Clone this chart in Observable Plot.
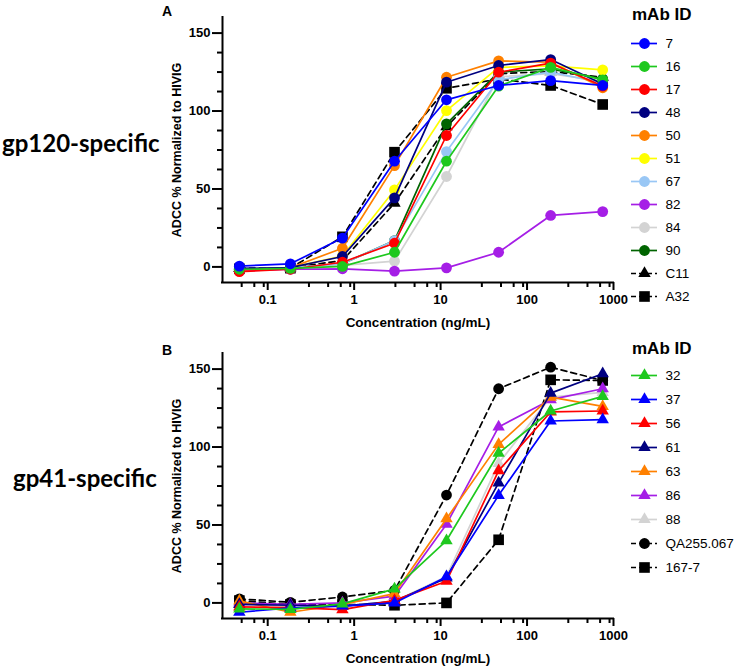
<!DOCTYPE html>
<html><head><meta charset="utf-8">
<script src="https://cdn.jsdelivr.net/npm/d3@7"></script>
<script src="https://cdn.jsdelivr.net/npm/@observablehq/plot@0.6"></script>
<style>
body{margin:0;background:#fff;}
#fig{position:relative;width:736px;height:669px;overflow:hidden;font-family:"Liberation Sans",Arial,sans-serif;color:#000;}
.side{font-family:Lato,sans-serif;font-weight:700;font-size:24px;white-space:nowrap;line-height:1;}
.letter{font-weight:bold;font-size:14px;line-height:1;}
.ltitle{font-weight:bold;font-size:17px;line-height:1;white-space:nowrap;}
</style></head><body><div id="fig"></div>
<script>
// ---- data ----
const conc = [0.047, 0.183, 0.732, 2.93, 11.7, 46.9, 187.5, 750];
const xTicks = [0.1, 1, 10, 100, 1000];
const xMinor = [0.05,0.07,0.09,0.3,0.5,0.7,0.9,3,5,7,9,30,50,70,90,300,500,700,900];
const yTicks = [0, 50, 100, 150];
const yMinor = [12.5, 25, 37.5, 62.5, 75, 87.5, 112.5, 125, 137.5];

const gp120Ids = ["7","16","17","48","50","51","67","82","84","90","C11","A32"];
const gp120Values = [
  [0.5, 2, 18.5, 67.8, 107.2, 116.4, 119.5, 116.4],
  [-1.5, -1, 0.3, 9.4, 67.8, 116, 128, 120],
  [-3, -1.5, 3, 15.2, 84.3, 124.9, 130.7, 116],
  [-1, -0.5, 6.7, 44.3, 118.5, 129.2, 133, 117.4],
  [-2, -0.5, 12, 65, 121.7, 132.2, 131.3, 114.9],
  [-1.5, -0.5, 7, 49.4, 100.3, 128, 129, 126.4],
  [-1.5, -0.5, 2, 16.9, 74, 120, 125, 118],
  [-2.5, -1.5, -1.2, -2.7, -0.6, 9.4, 33, 35.5],
  [-1.5, -1, 1, 3.7, 58, 122, 124, 119],
  [-1.5, -0.5, 2, 16.9, 91.8, 125, 127, 120.6],
  [-1, -0.5, 4.1, 40.9, 90, 124, 125.3, 121.7],
  [-1.2, -0.8, 19.3, 73.6, 114.6, 120.6, 116.4, 104.2]
];
const gp120Colors = ["#0000ff","#1ec81e","#ff0000","#000080","#ff8000","#ffff00","#99c7f5","#a51ee6","#d3d3d3","#006400","#000000","#000000"];
const gp120Symbols = ["circle","circle","circle","circle","circle","circle","circle","circle","circle","circle","triangle","square"];
const gp120Dashed = [false,false,false,false,false,false,false,false,false,false,true,true];

const gp41Ids = ["32","37","56","61","63","86","88","QA255.067","167-7"];
const gp41Values = [
  [-3.8, -4.2, -0.6, 9, 40, 96, 123.1, 132.5],
  [-6, -3.2, -2, 0, 16.8, 69, 116.7, 117.6],
  [-2.5, -3, -4.3, 1.6, 13.9, 84.8, 122.5, 123.1],
  [-1, -1.5, -2, 1, 16, 77, 134.6, 147],
  [1.3, -6, -1, 6, 54, 101.7, 132, 126.1],
  [0, -1, 0, 4.3, 50.5, 112.9, 130.4, 137.4],
  [-1, -2, -2, 1, 17, 89.5, 132, 135],
  [2.6, 0.4, 3.8, 8, 69.2, 137.4, 151.2, 142.7],
  [1.5, -1, -1, -1.5, 0, 40.5, 143.1, 142.7]
];
const gp41Colors = ["#1ec81e","#0000ff","#ff0000","#000080","#ff8000","#a51ee6","#d3d3d3","#000000","#000000"];
const gp41Symbols = ["triangle","triangle","triangle","triangle","triangle","triangle","triangle","circle","square"];
const gp41Dashed = [false,false,false,false,false,false,false,true,true];

const fig = document.getElementById("fig");

function place(el, left, top) {
  el.style.position = "absolute";
  el.style.left = left + "px";
  el.style.top = top + "px";
  fig.appendChild(el);
}
function label(text, cls, left, top) {
  const d = document.createElement("div");
  d.className = cls; d.textContent = text;
  place(d, left, top);
}
function symR(s) { return s === "circle" ? 5.4 : s === "square" ? 6 : 4.6; }

function panel(ids, values, colors, symbols, dashed) {
  const rows = [];
  ids.forEach((id, i) => values[i].forEach((v, j) => rows.push({i, id, conc: conc[j], v})));
  const marks = [
    Plot.axisY({ticks: yMinor, tickSize: 5, strokeWidth: 2, tickFormat: () => "", label: null}),
    Plot.axisY({ticks: yTicks, tickSize: 10, tickPadding: 2, strokeWidth: 2, tickFormat: d => String(d), label: null, fontSize: 13, fontWeight: "bold"}),
    Plot.axisX({ticks: xMinor, tickSize: 5, strokeWidth: 2, tickFormat: () => "", label: null}),
    Plot.axisX({ticks: xTicks, tickSize: 8, tickPadding: 4, strokeWidth: 2, tickFormat: d => String(d), label: null, fontSize: 13, fontWeight: "bold"}),
    Plot.ruleX([0.03], {strokeWidth: 2, strokeLinecap: "square"}),
    Plot.ruleY([-10], {strokeWidth: 2, strokeLinecap: "square"}),
    Plot.text(["ADCC % Normalized to HIVIG"], {text: d => d, frameAnchor: "left", rotate: -90, dx: -46, textAnchor: "middle", lineAnchor: "middle", fontSize: 12.5, fontWeight: "bold"}),
    Plot.text(["Concentration (ng/mL)"], {text: d => d, frameAnchor: "bottom", dy: 40, textAnchor: "middle", lineAnchor: "middle", fontSize: 13.5, fontWeight: "bold"})
  ];
  for (let i = ids.length - 1; i >= 0; i--) {
    const data = rows.filter(r => r.i === i);
    marks.push(Plot.line(data, {x: "conc", y: "v", stroke: colors[i], strokeWidth: 1.7, strokeDasharray: dashed[i] ? "6,4" : null}));
    marks.push(Plot.dot(data, {x: "conc", y: "v", fill: colors[i], stroke: "none", r: symR(symbols[i]), symbol: symbols[i]}));
  }
  return Plot.plot({
    width: 620, height: 336,
    marginLeft: 222, marginRight: 7, marginTop: 17, marginBottom: 54,
    x: {type: "log", domain: [0.03, 1000], label: null},
    y: {domain: [-10, 160], label: null},
    style: {fontFamily: "'Liberation Sans', Arial, sans-serif", fontSize: "13px", overflow: "visible", background: "transparent"},
    marks
  });
}

function legend(ids, colors, symbols, dashed, y0, step) {
  const marks = [];
  ids.forEach((id, i) => {
    marks.push(Plot.ruleY([id], {y: d => d, x1: 0, x2: 26, stroke: colors[i], strokeWidth: 1.7, strokeDasharray: dashed[i] ? "5,3" : null}));
    marks.push(Plot.dot([id], {y: d => d, x: 13, fill: colors[i], stroke: "none", r: symR(symbols[i]), symbol: symbols[i]}));
  });
  marks.push(Plot.text(ids, {y: d => d, x: 34, text: d => d, textAnchor: "start", lineAnchor: "middle", fontSize: 13.5}));
  return Plot.plot({
    width: 105, height: y0 + step * ids.length + 10, margin: 0,
    x: {domain: [0, 105], range: [0, 105], axis: null},
    y: {type: "point", domain: ids, range: [y0, y0 + step * (ids.length - 1)], padding: 0, axis: null},
    style: {fontFamily: "'Liberation Sans', Arial, sans-serif", overflow: "visible", background: "transparent"},
    marks
  });
}

place(panel(gp120Ids, gp120Values, gp120Colors, gp120Symbols, gp120Dashed), 0, 0);
place(panel(gp41Ids, gp41Values, gp41Colors, gp41Symbols, gp41Dashed), 0, 336);
place(legend(gp120Ids, gp120Colors, gp120Symbols, gp120Dashed, 38, 23.9), 631, 0);
place(legend(gp41Ids, gp41Colors, gp41Symbols, gp41Dashed, 375, 24.1), 631, 0);

label("mAb ID", "ltitle", 632, 6);
label("mAb ID", "ltitle", 632, 340);
label("A", "letter", 162, 4);
label("B", "letter", 162, 343);
label("gp120-specific", "side", 2, 131);
label("gp41-specific", "side", 13, 466);
</script></body></html>
